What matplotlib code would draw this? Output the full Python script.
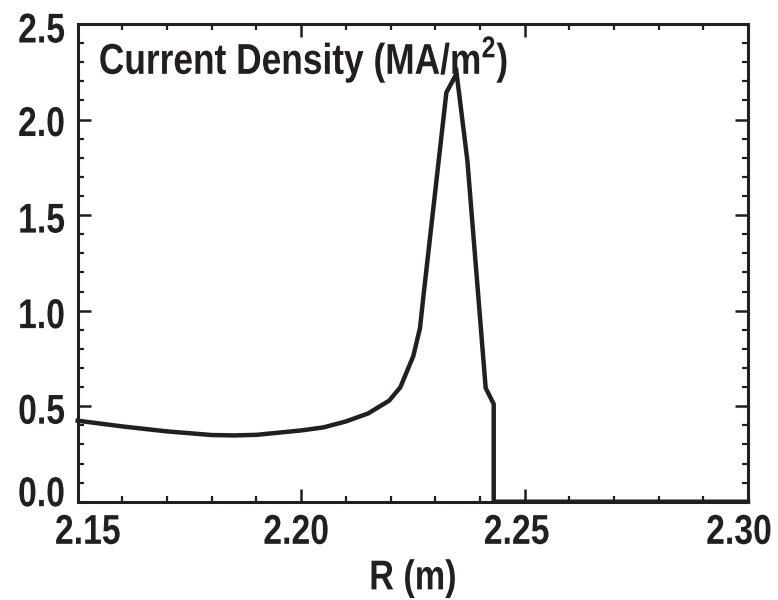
import matplotlib
matplotlib.use("Agg")
import matplotlib.pyplot as plt
from matplotlib.ticker import MultipleLocator
from matplotlib.patheffects import AbstractPathEffect
from matplotlib.transforms import Affine2D
from matplotlib.path import Path

# radius (m) and current density (MA/m^2)
r = [2.150, 2.160, 2.170, 2.180, 2.185, 2.190, 2.200, 2.205, 2.210, 2.215,
     2.2197, 2.2222, 2.2251, 2.2266, 2.2275, 2.2325, 2.2348, 2.2372,
     2.2413, 2.2431, 2.2431, 2.300]
j = [0.424, 0.394, 0.368, 0.349, 0.347, 0.350, 0.373, 0.389, 0.420, 0.462,
     0.529, 0.599, 0.762, 0.909, 1.103, 2.141, 2.241, 1.786,
     0.595, 0.511, 0.0, 0.0]

ink = '#231f20'


# the original uses a condensed bold face: squeeze the glyph outlines sideways
class Squeeze(AbstractPathEffect):
    def __init__(self, sx=0.82, anchor='left', dx=0, dy=0):
        super().__init__()
        self.sx = sx
        self.anchor = anchor
        self.dx = dx
        self.dy = dy

    def draw_path(self, renderer, gc, tpath, affine, rgbFace=None):
        v = tpath.vertices
        if tpath.codes is not None:
            v = v[tpath.codes != Path.CLOSEPOLY]
        xs = v[:, 0]
        if self.anchor == 'right':
            x0 = xs.max()
        elif self.anchor == 'center':
            x0 = (xs.min() + xs.max()) / 2
        else:
            x0 = xs.min()
        squeeze = Affine2D().translate(-x0, 0).scale(self.sx, 1).translate(x0, 0)
        # dx, dy in pixels, dy > 0 moves the text down
        shift = Affine2D().translate(self.dx, -self.dy)
        renderer.draw_path(gc, tpath, squeeze + affine + shift, rgbFace)


plt.rcParams['font.family'] = ['Liberation Sans', 'DejaVu Sans']
plt.rcParams['font.weight'] = 'bold'
plt.rcParams['mathtext.fontset'] = 'custom'
plt.rcParams['mathtext.rm'] = 'Liberation Sans:bold'
plt.rcParams['mathtext.bf'] = 'Liberation Sans:bold'

fig = plt.figure(figsize=(7.78, 6.0), dpi=100)
ax = fig.add_axes([0.0999, 0.1638, 0.8615, 0.7962])

ax.plot(r, j, color=ink, lw=3.2, solid_joinstyle='miter', clip_on=False, zorder=5)

ax.set_xlim(2.15, 2.30)
ax.set_ylim(0, 2.5)
ax.xaxis.set_major_locator(MultipleLocator(0.05))
ax.xaxis.set_minor_locator(MultipleLocator(0.01))
ax.yaxis.set_major_locator(MultipleLocator(0.5))
ax.yaxis.set_minor_locator(MultipleLocator(0.1))
ax.xaxis.set_major_formatter(plt.FuncFormatter(lambda v, p: '%.2f' % v))
ax.yaxis.set_major_formatter(plt.FuncFormatter(lambda v, p: '%.1f' % v))

ax.tick_params(which='both', direction='in', top=True, right=True, colors=ink)
ax.tick_params(which='major', length=9.4, width=1.8, labelsize=30, pad=8)
ax.tick_params(axis='y', which='major', pad=9)
ax.tick_params(which='minor', length=4.4, width=1.6)
for s in ax.spines.values():
    s.set_linewidth(2.2)
    s.set_color(ink)

xl = ax.set_xlabel('R (m)', fontsize=30, fontweight='bold', color=ink, labelpad=4)
xl.set_path_effects([Squeeze(0.82, 'center')])
t = ax.text(0.031, 0.895, 'Current Density (MA/m$^2$)', transform=ax.transAxes,
            fontsize=31, color=ink, va='baseline', ha='left')
t.set_path_effects([Squeeze(0.82, 'left')])

fig.canvas.draw()
# labels sit a little off their ticks in the original (pixels, y down)
x_shift = {2.15: 10, 2.20: -5, 2.25: -8, 2.30: -9}
for tick in ax.xaxis.get_major_ticks():
    d = x_shift.get(round(tick.get_loc(), 2), 0)
    tick.label1.set_path_effects([Squeeze(0.81, 'center', dx=d)])
y_shift = {0.0: -11, 0.5: 2, 1.0: 2, 1.5: 2, 2.0: 1, 2.5: 3}
for tick in ax.yaxis.get_major_ticks():
    d = y_shift.get(round(tick.get_loc(), 1), 0)
    tick.label1.set_path_effects([Squeeze(0.81, 'right', dy=d)])

fig.savefig('out.png', dpi=100)
